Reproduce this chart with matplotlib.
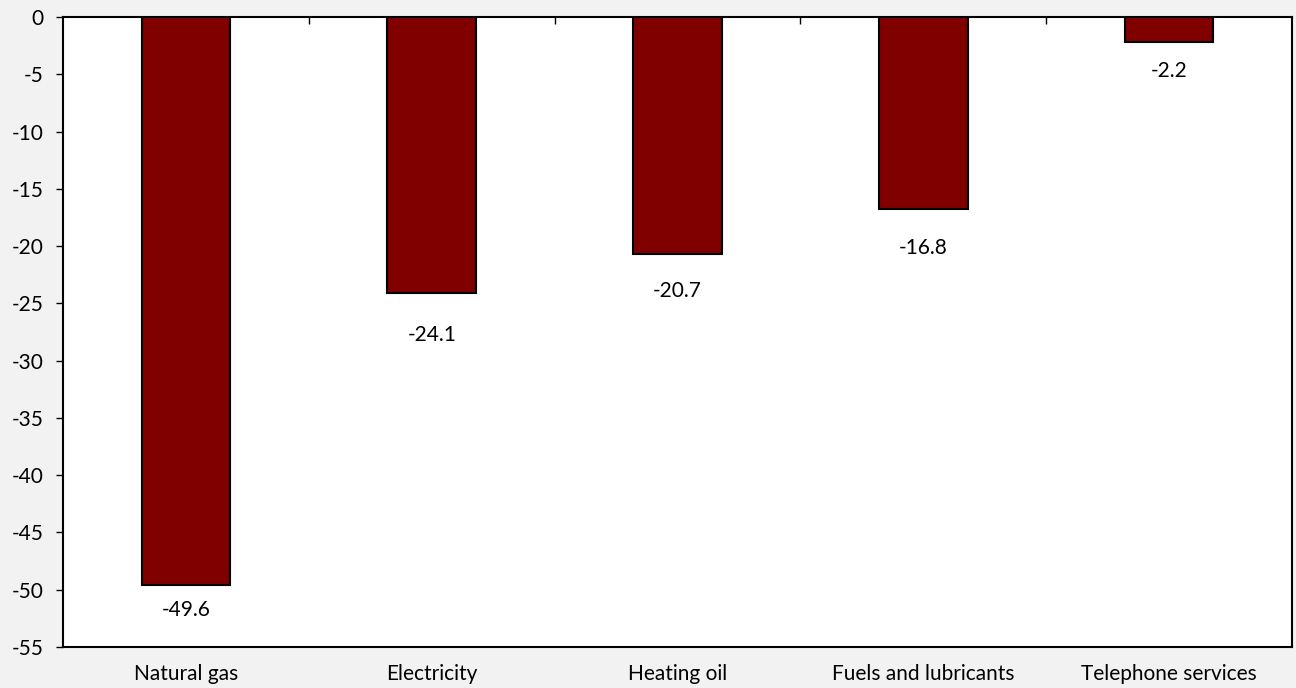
import numpy as np
import matplotlib.pyplot as plt

categories = ["Natural gas", "Electricity", "Heating oil", "Fuels and lubricants", "Telephone services"]
values = [-49.6, -24.1, -20.7, -16.8, -2.2]
# décalage vertical des étiquettes (points)
label_offsets = [-18, -30, -26.5, -28, -21]

plt.rcParams['font.family'] = ['Lato', 'DejaVu Sans']
plt.rcParams['axes.unicode_minus'] = False

fig, ax = plt.subplots(figsize=(12.96, 6.88), dpi=100)
fig.patch.set_facecolor('#f2f2f2')
ax.set_facecolor('white')
fig.subplots_adjust(left=63/1296, right=1292/1296, top=1-17/688, bottom=1-647/688)

x = np.arange(len(categories))
bars = ax.bar(x, values, width=0.36, color='#800000', edgecolor='black', linewidth=1.5, zorder=3)

# étiquettes sous les barres
for xi, v, off in zip(x, values, label_offsets):
    ax.annotate(f"{v:.1f}", (xi, v), xytext=(0, off), textcoords='offset points',
                ha='center', va='center', fontsize=15)

ax.set_xlim(-0.5, len(categories) - 0.5)
ax.set_ylim(-55, 0)
ax.set_yticks(np.arange(-55, 1, 5))
ax.set_xticks(x)
ax.set_xticklabels(categories, fontsize=15)
ax.tick_params(axis='x', which='major', length=0, pad=12)
ax.set_xticks(np.arange(0.5, len(categories) - 0.5, 1), minor=True)
ax.tick_params(axis='x', which='minor', top=True, bottom=False, direction='in', length=5, width=1)
ax.tick_params(axis='y', labelsize=15, length=5, width=1, pad=9)

for sp in ax.spines.values():
    sp.set_linewidth(1.5)

plt.savefig("out.png", dpi=100, facecolor=fig.get_facecolor())
